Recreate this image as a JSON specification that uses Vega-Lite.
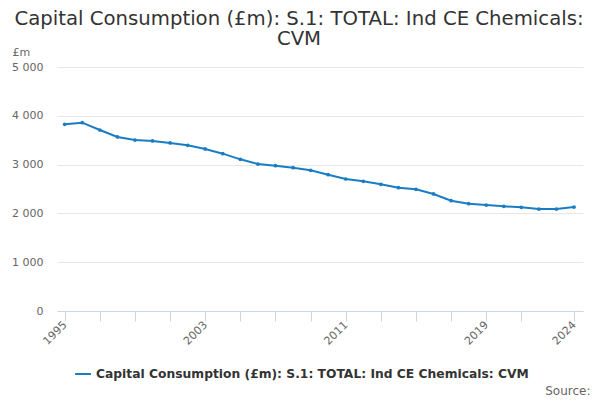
{
  "$schema": "https://vega.github.io/schema/vega-lite/v6.json",
  "autosize": {"type": "none"},
  "width": 526,
  "height": 244,
  "padding": {"left": 57, "top": 67, "right": 17, "bottom": 89},
  "config": {
    "font": "DejaVu Sans",
    "view": {"stroke": null}
  },
  "title": {
    "text": ["Capital Consumption (£m): S.1: TOTAL: Ind CE Chemicals:", "CVM"],
    "font": "DejaVu Sans",
    "fontSize": 19.7,
    "fontWeight": "normal",
    "color": "#333333",
    "anchor": "middle",
    "frame": "group",
    "dx": -21,
    "baseline": "alphabetic",
    "offset": -19,
    "lineHeight": 20
  },
  "data": {
    "values": [
      {"year": 1995, "value": 3826, "series": "Capital Consumption (£m): S.1: TOTAL: Ind CE Chemicals: CVM"},
      {"year": 1996, "value": 3859, "series": "Capital Consumption (£m): S.1: TOTAL: Ind CE Chemicals: CVM"},
      {"year": 1997, "value": 3709, "series": "Capital Consumption (£m): S.1: TOTAL: Ind CE Chemicals: CVM"},
      {"year": 1998, "value": 3566, "series": "Capital Consumption (£m): S.1: TOTAL: Ind CE Chemicals: CVM"},
      {"year": 1999, "value": 3504, "series": "Capital Consumption (£m): S.1: TOTAL: Ind CE Chemicals: CVM"},
      {"year": 2000, "value": 3484, "series": "Capital Consumption (£m): S.1: TOTAL: Ind CE Chemicals: CVM"},
      {"year": 2001, "value": 3443, "series": "Capital Consumption (£m): S.1: TOTAL: Ind CE Chemicals: CVM"},
      {"year": 2002, "value": 3395, "series": "Capital Consumption (£m): S.1: TOTAL: Ind CE Chemicals: CVM"},
      {"year": 2003, "value": 3320, "series": "Capital Consumption (£m): S.1: TOTAL: Ind CE Chemicals: CVM"},
      {"year": 2004, "value": 3224, "series": "Capital Consumption (£m): S.1: TOTAL: Ind CE Chemicals: CVM"},
      {"year": 2005, "value": 3108, "series": "Capital Consumption (£m): S.1: TOTAL: Ind CE Chemicals: CVM"},
      {"year": 2006, "value": 3012, "series": "Capital Consumption (£m): S.1: TOTAL: Ind CE Chemicals: CVM"},
      {"year": 2007, "value": 2978, "series": "Capital Consumption (£m): S.1: TOTAL: Ind CE Chemicals: CVM"},
      {"year": 2008, "value": 2937, "series": "Capital Consumption (£m): S.1: TOTAL: Ind CE Chemicals: CVM"},
      {"year": 2009, "value": 2883, "series": "Capital Consumption (£m): S.1: TOTAL: Ind CE Chemicals: CVM"},
      {"year": 2010, "value": 2793, "series": "Capital Consumption (£m): S.1: TOTAL: Ind CE Chemicals: CVM"},
      {"year": 2011, "value": 2705, "series": "Capital Consumption (£m): S.1: TOTAL: Ind CE Chemicals: CVM"},
      {"year": 2012, "value": 2657, "series": "Capital Consumption (£m): S.1: TOTAL: Ind CE Chemicals: CVM"},
      {"year": 2013, "value": 2596, "series": "Capital Consumption (£m): S.1: TOTAL: Ind CE Chemicals: CVM"},
      {"year": 2014, "value": 2527, "series": "Capital Consumption (£m): S.1: TOTAL: Ind CE Chemicals: CVM"},
      {"year": 2015, "value": 2494, "series": "Capital Consumption (£m): S.1: TOTAL: Ind CE Chemicals: CVM"},
      {"year": 2016, "value": 2398, "series": "Capital Consumption (£m): S.1: TOTAL: Ind CE Chemicals: CVM"},
      {"year": 2017, "value": 2260, "series": "Capital Consumption (£m): S.1: TOTAL: Ind CE Chemicals: CVM"},
      {"year": 2018, "value": 2199, "series": "Capital Consumption (£m): S.1: TOTAL: Ind CE Chemicals: CVM"},
      {"year": 2019, "value": 2172, "series": "Capital Consumption (£m): S.1: TOTAL: Ind CE Chemicals: CVM"},
      {"year": 2020, "value": 2145, "series": "Capital Consumption (£m): S.1: TOTAL: Ind CE Chemicals: CVM"},
      {"year": 2021, "value": 2125, "series": "Capital Consumption (£m): S.1: TOTAL: Ind CE Chemicals: CVM"},
      {"year": 2022, "value": 2090, "series": "Capital Consumption (£m): S.1: TOTAL: Ind CE Chemicals: CVM"},
      {"year": 2023, "value": 2090, "series": "Capital Consumption (£m): S.1: TOTAL: Ind CE Chemicals: CVM"},
      {"year": 2024, "value": 2131, "series": "Capital Consumption (£m): S.1: TOTAL: Ind CE Chemicals: CVM"}
    ]
  },
  "mark": {
    "type": "line",
    "strokeWidth": 2,
    "point": {"size": 14, "filled": true}
  },
  "encoding": {
    "x": {
      "field": "year",
      "type": "quantitative",
      "scale": {"domain": [1994.56, 2024.51], "nice": false, "zero": false},
      "axis": {
        "values": [1995, 1997, 1999, 2001, 2003, 2005, 2007, 2009, 2011, 2013, 2015, 2017, 2019, 2021, 2024],
        "labelExpr": "indexof([1995, 2003, 2011, 2019, 2024], datum.value) >= 0 ? datum.value + '' : ''",
        "labelAngle": -45,
        "labelAlign": "right",
        "labelBaseline": "middle",
        "labelFontSize": 11,
        "labelColor": "#666666",
        "labelPadding": 2,
        "labelOverlap": false,
        "labelFlush": false,
        "grid": false,
        "domainColor": "#ccd6eb",
        "tickColor": "#ccd6eb",
        "tickSize": 10,
        "title": "Source:",
        "titleFontSize": 12,
        "titleFontWeight": "normal",
        "titleColor": "#666666",
        "titleAnchor": "end",
        "titleAlign": "right",
        "titleBaseline": "bottom",
        "titleX": 533,
        "titleY": 86
      }
    },
    "y": {
      "field": "value",
      "type": "quantitative",
      "scale": {"domain": [0, 5000], "nice": false},
      "axis": {
        "values": [0, 1000, 2000, 3000, 4000, 5000],
        "labelExpr": "datum.value >= 1000 ? floor(datum.value / 1000) + ' 000' : '0'",
        "labelFontSize": 11,
        "labelColor": "#666666",
        "labelPadding": 14,
        "ticks": false,
        "domain": false,
        "gridColor": "#e6e6e6",
        "title": "£m",
        "titleAngle": 0,
        "titleFontSize": 11,
        "titleFontWeight": "normal",
        "titleColor": "#666666",
        "titleAlign": "left",
        "titleBaseline": "bottom",
        "titleX": -45,
        "titleY": -10
      }
    },
    "color": {
      "field": "series",
      "type": "nominal",
      "scale": {"range": ["#1a7dc3"]},
      "legend": {
        "title": null,
        "orient": "none",
        "legendX": 17,
        "legendY": 298,
        "symbolType": "stroke",
        "symbolStrokeWidth": 2,
        "symbolSize": 250,
        "labelFontSize": 12.3,
        "labelFontWeight": "bold",
        "labelColor": "#333333",
        "labelLimit": 500
      }
    }
  }
}
